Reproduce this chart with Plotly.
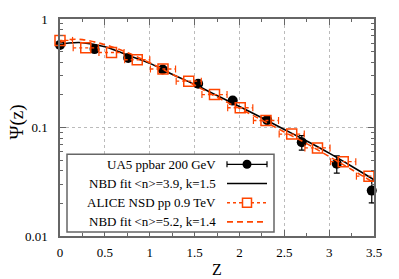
import plotly.graph_objects as go

# ---------------- data ----------------
ua5_z = [0.0, 0.385, 0.76, 1.145, 1.54, 1.925, 2.31, 2.695, 3.085, 3.475]
ua5_psi = [0.577, 0.528, 0.438, 0.342, 0.253, 0.177, 0.117, 0.073, 0.0464, 0.0262]
ua5_err = [0.012, 0.012, 0.012, 0.012, 0.013, 0.010, 0.007, 0.011, 0.0085, 0.006]

alice_z = [0.0, 0.287, 0.574, 0.861, 1.148, 1.435, 1.722, 2.009, 2.296, 2.583, 2.87, 3.157, 3.444]
alice_psi = [0.635, 0.542, 0.491, 0.421, 0.346, 0.267, 0.201, 0.152, 0.116, 0.0869, 0.0648, 0.0484, 0.0356]
alice_zerr = [0.14, 0.14, 0.14, 0.14, 0.14, 0.14, 0.14, 0.14, 0.14, 0.14, 0.14, 0.14, 0.14]

fit_z = [0.0, 0.1, 0.25, 0.5, 0.75, 1.0, 1.25, 1.5, 1.75, 2.0, 2.25, 2.5, 2.75, 3.0, 3.25, 3.5]
fit_ua5 = [0.58, 0.60, 0.605, 0.555, 0.465, 0.39, 0.31, 0.25, 0.197, 0.156, 0.123, 0.096, 0.075, 0.058, 0.044, 0.033]
fit_alice = [0.61, 0.645, 0.645, 0.58, 0.49, 0.395, 0.31, 0.246, 0.19, 0.15, 0.117, 0.091, 0.071, 0.054, 0.041, 0.031]

legend_labels = ["UA5 ppbar 200 GeV", "NBD fit <n>=3.9, k=1.5",
                 "ALICE NSD pp 0.9 TeV", "NBD fit <n>=5.2, k=1.4"]

x_ticks = [0, 0.5, 1, 1.5, 2, 2.5, 3, 3.5]
x_ticktext = ["0", "0.5", "1", "1.5", "2", "2.5", "3", "3.5"]
y_ticks = [0.01, 0.1, 1]
y_ticktext = ["0.01", "0.1", "1"]
y_minor = [0.02, 0.03, 0.04, 0.05, 0.06, 0.07, 0.08, 0.09,
           0.2, 0.3, 0.4, 0.5, 0.6, 0.7, 0.8, 0.9]

BLACK = "#000000"
ORANGE = "#FF4500"
AXIS = "#666666"
FONT = "Liberation Serif"

fig = go.Figure()

# UA5 points with vertical error bars
fig.add_trace(go.Scatter(
    x=ua5_z, y=ua5_psi, mode="markers", cliponaxis=False,
    marker=dict(symbol="circle", size=10, color=BLACK),
    error_y=dict(type="data", array=ua5_err, color=BLACK, thickness=1.2, width=3),
    showlegend=False))

# NBD fit for UA5
fig.add_trace(go.Scatter(
    x=fit_z, y=fit_ua5, mode="lines", line=dict(color=BLACK, width=1.6, shape="spline"),
    showlegend=False))

# ALICE horizontal (dashed) error bars
seg_x, seg_y = [], []
for z, p, dz in zip(alice_z, alice_psi, alice_zerr):
    seg_x += [z - dz, z + dz, None]
    seg_y += [p, p, None]
fig.add_trace(go.Scatter(
    x=seg_x, y=seg_y, mode="lines", line=dict(color=ORANGE, width=1.3, dash="3px,3px"),
    showlegend=False))
cap_x, cap_y = [], []
for z, p, dz in zip(alice_z, alice_psi, alice_zerr):
    if z - dz >= 0:
        cap_x.append(z - dz); cap_y.append(p)
    if z + dz <= 3.5:
        cap_x.append(z + dz); cap_y.append(p)
fig.add_trace(go.Scatter(
    x=cap_x, y=cap_y, mode="markers",
    marker=dict(symbol="line-ns", size=5, line=dict(color=ORANGE, width=1.2)),
    showlegend=False))

# ALICE points
fig.add_trace(go.Scatter(
    x=alice_z, y=alice_psi, mode="markers", cliponaxis=False,
    marker=dict(symbol="square-open", size=10, color=ORANGE, line=dict(color=ORANGE, width=1.5)),
    showlegend=False))

# NBD fit for ALICE
fig.add_trace(go.Scatter(
    x=fit_z, y=fit_alice, mode="lines",
    line=dict(color=ORANGE, width=1.6, dash="6px,4px", shape="spline"),
    showlegend=False))

# ---------------- layout ----------------
L, R, T, B = 60, 25, 16, 43
W, H = 399, 279
pw, ph = W - L - R, H - T - B


def px(xp):
    return (xp - L) / pw


def py(yp):
    return (T + ph - yp) / ph


fig.update_layout(
    width=W, height=H, margin=dict(l=L, r=R, t=T, b=B),
    paper_bgcolor="white", plot_bgcolor="white",
    font=dict(family=FONT, size=13, color="black"),
    showlegend=False,
)
fig.update_xaxes(
    range=[0, 3.5], tickmode="array", tickvals=x_ticks, ticktext=x_ticktext,
    ticks="inside", ticklen=6, tickwidth=1, tickcolor=AXIS,
    minor=dict(tickmode="array", tickvals=[0.25, 0.75, 1.25, 1.75, 2.25, 2.75, 3.25],
               ticks="inside", ticklen=3, tickcolor=AXIS, showgrid=False),
    showline=True, linecolor=AXIS, linewidth=1.5, mirror="ticks",
    showgrid=True, gridcolor="#BBBBBB", gridwidth=1, griddash="dot",
    zeroline=False, ticklabelstandoff=4,
    tickfont=dict(family=FONT, size=13, color="black"))
fig.update_yaxes(
    type="log", range=[-2, 0], tickmode="array", tickvals=y_ticks, ticktext=y_ticktext,
    ticks="inside", ticklen=6, tickwidth=1, tickcolor=AXIS,
    minor=dict(tickmode="array", tickvals=y_minor, ticks="inside", ticklen=3,
               tickcolor=AXIS, showgrid=False),
    showline=True, linecolor=AXIS, linewidth=1.5, mirror="ticks",
    showgrid=True, gridcolor="#BBBBBB", gridwidth=1, griddash="dot",
    zeroline=False, ticklabelstandoff=8,
    tickfont=dict(family=FONT, size=13, color="black"))

annotations = [
    dict(text="Z", x=0.5, y=py(269.5), xref="paper", yref="paper", showarrow=False,
         xanchor="center", yanchor="middle", font=dict(family=FONT, size=16, color="black")),
    dict(text="Ψ(z)", x=px(17), y=py(121), xref="paper", yref="paper", showarrow=False,
         textangle=-90, xanchor="center", yanchor="middle",
         font=dict(family=FONT, size=19, color="black")),
]

shapes = [
    dict(type="rect", xref="paper", yref="paper", x0=px(67), x1=px(274), y0=py(232), y1=py(153),
         line=dict(color=AXIS, width=1.5), fillcolor="white", layer="above"),
]

rows = [163.3, 182.7, 202.3, 221.7]
for lab, r in zip(legend_labels, rows):
    annotations.append(dict(text=lab, x=px(218), y=py(r), xref="paper", yref="paper",
                            showarrow=False, xanchor="right", yanchor="middle",
                            font=dict(family=FONT, size=13, color="black")))

sx0, sx1, sxm = px(227), px(267), px(247)
# row 1: UA5 sample
shapes.append(dict(type="line", xref="paper", yref="paper", x0=sx0, x1=sx1, y0=py(rows[0]), y1=py(rows[0]),
                   line=dict(color=BLACK, width=1.2), layer="above"))
for xe in (sx0, sx1):
    shapes.append(dict(type="line", xref="paper", yref="paper", x0=xe, x1=xe,
                       y0=py(rows[0] - 3), y1=py(rows[0] + 3), line=dict(color=BLACK, width=1.2), layer="above"))
shapes.append(dict(type="circle", xref="paper", yref="paper", xsizemode="pixel", ysizemode="pixel",
                   xanchor=sxm, yanchor=py(rows[0]), x0=-4.5, x1=4.5, y0=-4.5, y1=4.5,
                   fillcolor=BLACK, line=dict(color=BLACK, width=0), layer="above"))
# row 2: black line
shapes.append(dict(type="line", xref="paper", yref="paper", x0=sx0, x1=sx1, y0=py(rows[1]), y1=py(rows[1]),
                   line=dict(color=BLACK, width=1.6), layer="above"))
# row 3: ALICE sample
shapes.append(dict(type="line", xref="paper", yref="paper", x0=sx0, x1=sx1, y0=py(rows[2]), y1=py(rows[2]),
                   line=dict(color=ORANGE, width=1.3, dash="3px,3px"), layer="above"))
shapes.append(dict(type="rect", xref="paper", yref="paper", xsizemode="pixel", ysizemode="pixel",
                   xanchor=sxm, yanchor=py(rows[2]), x0=-4.5, x1=4.5, y0=-4.5, y1=4.5,
                   fillcolor="white", line=dict(color=ORANGE, width=1.5), layer="above"))
# row 4: orange dashed
shapes.append(dict(type="line", xref="paper", yref="paper", x0=sx0, x1=sx1, y0=py(rows[3]), y1=py(rows[3]),
                   line=dict(color=ORANGE, width=1.6, dash="6px,4px"), layer="above"))

fig.update_layout(annotations=annotations, shapes=shapes)

fig.write_html("out.html", config={"displayModeBar": False},
               post_script="document.body.style.margin='0px';document.body.style.overflow='hidden';")
